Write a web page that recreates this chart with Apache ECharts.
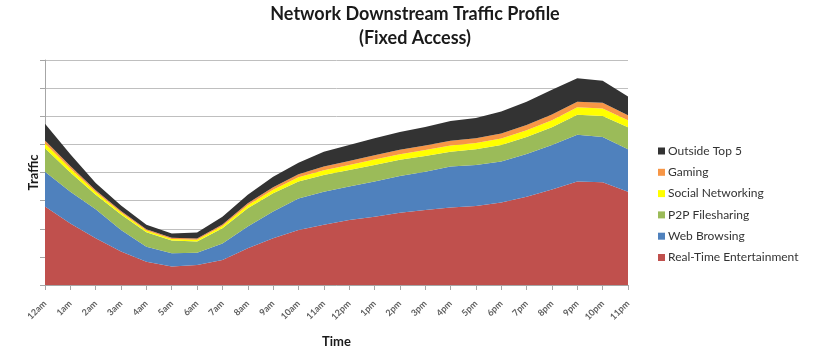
<!DOCTYPE html>
<html>
<head>
<meta charset="utf-8">
<script src="https://cdn.jsdelivr.net/npm/echarts@6/dist/echarts.min.js"></script>
<style>html,body{margin:0;padding:0;background:#fff}#c{width:813px;height:358px}</style>
</head>
<body>
<div id="c"></div>
<script>
const hours = ['12am','1am','2am','3am','4am','5am','6am','7am','8am','9am','10am','11am','12pm','1pm','2pm','3pm','4pm','5pm','6pm','7pm','8pm','9pm','10pm','11pm'];
const realTime = [2.79,2.19,1.66,1.19,0.83,0.66,0.71,0.89,1.31,1.66,1.96,2.14,2.31,2.43,2.57,2.67,2.76,2.81,2.93,3.14,3.40,3.68,3.65,3.32];
const webBrowsing = [1.24,1.13,1.03,0.77,0.53,0.47,0.44,0.59,0.77,0.95,1.12,1.18,1.19,1.25,1.31,1.36,1.45,1.46,1.46,1.52,1.58,1.66,1.61,1.51];
const p2p = [0.83,0.68,0.52,0.55,0.52,0.45,0.40,0.54,0.65,0.65,0.60,0.59,0.59,0.59,0.57,0.56,0.53,0.56,0.59,0.60,0.63,0.71,0.75,0.78];
const social = [0.17,0.14,0.10,0.07,0.06,0.06,0.06,0.08,0.11,0.13,0.15,0.17,0.18,0.19,0.20,0.21,0.22,0.22,0.23,0.24,0.25,0.27,0.27,0.25];
const gaming = [0.11,0.09,0.06,0.05,0.04,0.04,0.04,0.05,0.07,0.09,0.11,0.13,0.14,0.15,0.16,0.16,0.17,0.17,0.18,0.19,0.20,0.20,0.20,0.18];
const outside = [0.59,0.42,0.26,0.20,0.16,0.15,0.22,0.28,0.30,0.37,0.41,0.53,0.57,0.61,0.63,0.66,0.70,0.72,0.78,0.83,0.88,0.83,0.78,0.66];

const seriesDefs = [
  {name:'Real-Time Entertainment', data: realTime, color:'#C0504D'},
  {name:'Web Browsing', data: webBrowsing, color:'#4F81BD'},
  {name:'P2P Filesharing', data: p2p, color:'#9BBB59'},
  {name:'Social Networking', data: social, color:'#FFFF00'},
  {name:'Gaming', data: gaming, color:'#F79646'},
  {name:'Outside Top 5', data: outside, color:'#333333'}
];

const chart = echarts.init(document.getElementById('c'));
const font = 'Lato, "Open Sans", sans-serif';
chart.setOption({
  animation: false,
  backgroundColor: '#fff',
  title: {
    text: 'Network Downstream Traffic Profile\n(Fixed Access)',
    left: 410, top: -3, textAlign: 'center',
    textStyle: {fontFamily: font, fontWeight: 'bold', fontSize: 18, lineHeight: 24, color: '#1a1a1a'}
  },
  legend: {
    orient: 'vertical', left: 653, top: 139,
    itemWidth: 7, itemHeight: 7, itemGap: 7.3, icon: 'rect',
    data: seriesDefs.slice().reverse().map(s => s.name),
    textStyle: {fontFamily: font, fontSize: 12, color: '#333', lineHeight: 14, padding: [0,0,0,-2]}
  },
  grid: {left: 45, right: 185, top: 60, bottom: 73, outerBoundsMode: 'none', containLabel: false},
  xAxis: {
    type: 'category', data: hours, boundaryGap: false,
    name: 'Time', nameLocation: 'middle', nameGap: 50,
    nameTextStyle: {fontFamily: font, fontWeight: 'bold', fontSize: 13, color: '#1a1a1a'},
    axisLine: {lineStyle: {color: '#a6a6a6'}},
    axisTick: {show: true, length: 5, lineStyle: {color: '#a6a6a6'}},
    axisLabel: {rotate: 45, interval: 0, fontFamily: font, fontSize: 9, fontWeight: 'bold', color: '#5f5f5f', margin: 17}
  },
  yAxis: {
    type: 'value', min: 0, max: 8, interval: 1,
    name: 'Traffic', nameLocation: 'middle', nameGap: 5,
    nameTextStyle: {fontFamily: font, fontWeight: 'bold', fontSize: 13, color: '#1a1a1a'},
    axisLine: {show: true, lineStyle: {color: '#a6a6a6'}},
    axisTick: {show: true, length: 5, lineStyle: {color: '#a6a6a6'}},
    axisLabel: {show: false},
    splitLine: {lineStyle: {color: '#bfbfbf'}}
  },
  series: seriesDefs.map(s => ({
    name: s.name, type: 'line', stack: 'total', data: s.data,
    symbol: 'none', lineStyle: {width: 0}, areaStyle: {color: s.color, opacity: 1},
    itemStyle: {color: s.color}
  }))
});
</script>
</body>
</html>
